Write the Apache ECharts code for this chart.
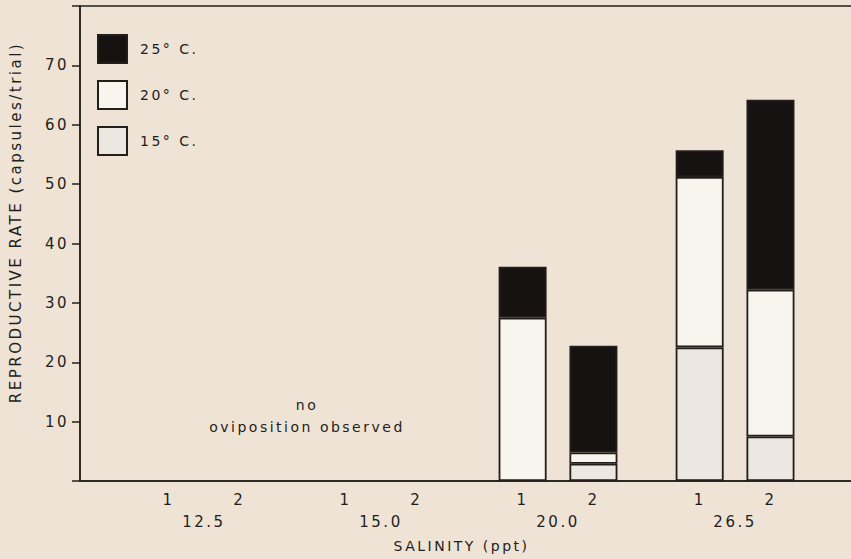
<!DOCTYPE html>
<html>
<head>
<meta charset="utf-8">
<script src="https://cdn.jsdelivr.net/npm/echarts@6/dist/echarts.min.js"></script>
<style>
html,body{margin:0;padding:0;background:#efe3d6;}
#chart{width:851px;height:559px;}
#chart text{letter-spacing:2.5px;}
</style>
</head>
<body>
<div id="chart"></div>
<script>
// ---- data ----
const salinities = ['12.5', '15.0', '20.0', '26.5'];
const trials = ['1', '2'];
// order: 12.5-1, 12.5-2, 15.0-1, 15.0-2, 20.0-1, 20.0-2, 26.5-1, 26.5-2
const temp15 = [0, 0, 0, 0, 0, 2.9, 22.5, 7.5];
const temp20 = [0, 0, 0, 0, 27.5, 1.9, 28.7, 24.7];
const temp25 = [0, 0, 0, 0, 8.6, 18.0, 4.5, 32.0];
const yTicks = [10, 20, 30, 40, 50, 60, 70];
const seriesNames = ['15° C.', '20° C.', '25° C.'];
const yName = 'REPRODUCTIVE RATE (capsules/trial)';
const xName = 'SALINITY (ppt)';
const note1 = 'no';
const note2 = 'oviposition observed';

// ---- category slots: 2 leading blanks, then per salinity [t1, mid, t2, gap, gap] ----
const slots = ['pad|a', 'pad|b'];
salinities.forEach(s => {
  slots.push(s + '|' + trials[0], s + '|mid', s + '|' + trials[1], s + '|g1', s + '|g2');
});
function valuesFor(arr) {
  return slots.map(k => {
    const [s, t] = k.split('|');
    const si = salinities.indexOf(s), ti = trials.indexOf(t);
    if (si < 0 || ti < 0) return '-';
    const v = arr[si * trials.length + ti];
    return v === 0 ? '-' : v;
  });
}

const ink = '#231e1b';
const font = 'DejaVu Sans';
const chart = echarts.init(document.getElementById('chart'), null, {renderer: 'svg'});
const barBase = {
  type: 'bar', stack: 'total', barWidth: 48, xAxisIndex: 0
};
chart.setOption({
  backgroundColor: '#efe3d6',
  animation: false,
  textStyle: {fontFamily: font, color: ink},
  grid: {left: 80, width: 779, top: 6, bottom: 78, outerBoundsMode: 'none', containLabel: false,
    show: true, borderColor: ink, borderWidth: 1.5, backgroundColor: 'transparent'},
  legend: {
    orient: 'vertical', left: 92, top: 29, itemWidth: 29, itemHeight: 28, itemGap: 16,
    icon: 'rect', data: [seriesNames[2], seriesNames[1], seriesNames[0]],
    textStyle: {fontFamily: font, fontSize: 14, color: ink, padding: [0, 0, 0, 8]},
    selectedMode: false
  },
  xAxis: [{
    type: 'category', data: slots, position: 'bottom', boundaryGap: true,
    axisLine: {lineStyle: {color: ink, width: 1.5}},
    axisTick: {show: false},
    axisLabel: {
      interval: 0, margin: 11, fontSize: 15, color: ink, fontFamily: font,
      formatter: v => { const t = v.split('|')[1]; return trials.includes(t) ? t : ''; }
    },
    name: xName, nameLocation: 'middle', nameGap: 58,
    nameTextStyle: {fontSize: 14, color: ink, fontFamily: font, padding: [0, 16, 0, 0]}
  }, {
    type: 'category', data: slots, position: 'bottom', offset: 0, boundaryGap: true,
    axisLine: {show: false}, axisTick: {show: false}, splitLine: {show: false},
    axisLabel: {
      interval: 0, margin: 33, fontSize: 15, color: ink, fontFamily: font,
      formatter: v => { const p = v.split('|'); return p[1] === 'mid' ? p[0] : ''; }
    }
  }],
  yAxis: {
    type: 'value', min: 0, max: 80, interval: 10,
    axisLine: {show: true, lineStyle: {color: ink, width: 1.5}},
    axisTick: {show: true, length: 8, lineStyle: {color: ink, width: 1.5}},
    splitLine: {show: false},
    axisLabel: {
      margin: 11, fontSize: 15, color: ink, fontFamily: font,
      formatter: v => yTicks.includes(v) ? String(v) : ''
    },
    name: yName, nameLocation: 'middle', nameRotate: 90, nameGap: 57,
    nameTextStyle: {fontSize: 15, color: ink, fontFamily: font, padding: [0, 0, 0, 42]}
  },
  graphic: [
    {type: 'text', x: 307, y: 405, style: {text: note1, fontSize: 14, fontFamily: font, fill: ink, align: 'center', verticalAlign: 'middle'}},
    {type: 'text', x: 307, y: 427, style: {text: note2, fontSize: 14, fontFamily: font, fill: ink, align: 'center', verticalAlign: 'middle'}}
  ],
  series: [
    Object.assign({}, barBase, {name: seriesNames[0], data: valuesFor(temp15), itemStyle: {color: '#ece7e1', borderColor: ink, borderWidth: 1.8}}),
    Object.assign({}, barBase, {name: seriesNames[1], data: valuesFor(temp20), itemStyle: {color: '#f8f4ee', borderColor: ink, borderWidth: 1.8}}),
    Object.assign({}, barBase, {name: seriesNames[2], data: valuesFor(temp25), itemStyle: {color: '#161211', borderColor: ink, borderWidth: 1.8}})
  ]
});
</script>
</body>
</html>
